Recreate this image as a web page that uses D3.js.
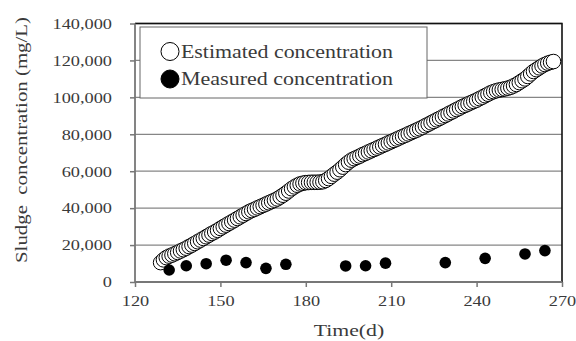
<!DOCTYPE html>
<html>
<head>
<meta charset="utf-8">
<script src="https://cdn.jsdelivr.net/npm/d3@7"></script>
<style>
  body { margin: 0; background: #fff; }
  svg text { font-family: "Liberation Serif", "DejaVu Serif", serif; fill: #3a3a3a; }
</style>
</head>
<body>
<svg id="chart" width="576" height="341"></svg>
<script>
// estimated concentration, roughly one point per day
var estDays = [
  129,130,131,132,133,134,135,136,137,138,139,140,141,142,143,144,145,146,147,148,
  149,150,151,152,153,154,155,156,157,158,159,160,161,162,163,164,165,166,167,168,
  169,170,171,172,173,174,175,176,177,178,179,180,181,182,183,184,185,186,187,188,
  189,190,191,192,193,194,195,196,197,198,199,200,201,202,203,204,205,206,207,208,
  209,210,211,212,213,214,215,216,217,218,219,220,221,222,223,224,225,226,227,228,
  229,230,231,232,233,234,235,236,237,238,239,240,241,242,243,244,245,246,247,248,
  249,250,251,252,253,254,255,256,257,258,259,260,261,262,263,264,265,266,267
];
var estValues = [
  10500,12000,13200,14000,14600,15300,16000,16800,17500,18300,19200,20000,20900,21800,22700,23600,24500,25400,26300,27100,
  28000,29000,29900,30800,31700,32600,33500,34400,35300,36200,37100,38000,38700,39400,40100,40800,41500,42200,42900,43600,
  44300,45000,46000,47000,48100,49300,50500,51500,52400,53100,53500,53800,53900,54000,54000,54000,54100,54300,55000,56000,
  57200,58400,59500,60800,62200,63600,64900,66000,66800,67500,68200,69000,69700,70400,71100,71800,72500,73200,73900,74600,
  75300,76000,76700,77400,78100,78800,79500,80200,80900,81600,82300,83000,83800,84600,85400,86200,87000,87800,88600,89400,
  90200,91000,91800,92600,93400,94200,95000,95700,96400,97100,97800,98500,99300,100100,100900,101700,102500,103100,103600,104000,
  104300,104600,105000,105500,106200,107000,108000,109000,110000,111300,112700,114000,115000,116000,117000,117800,118500,119000,119400
];

// measured concentration
var measDays = [132, 138, 145, 152, 159, 166, 173, 194, 201, 208, 229, 243, 257, 264];
var measValues = [6500, 8800, 9900, 11800, 10500, 7400, 9600, 8700, 8800, 10200, 10500, 12800, 15200, 17000];

var xTicks = [120, 150, 180, 210, 240, 270];
var yTicks = [0, 20000, 40000, 60000, 80000, 100000, 120000, 140000];
var legendLabels = ["Estimated concentration", "Measured concentration"];

var margin = {top: 23.5, right: 14, bottom: 59, left: 135};
var width = 576 - margin.left - margin.right;
var height = 341 - margin.top - margin.bottom;

// the original font is a wide mincho face, so widen the serif glyphs a bit
function stretch(sel, factor) {
    sel.each(function() {
        var w = this.getComputedTextLength();
        d3.select(this).attr("textLength", w * factor).attr("lengthAdjust", "spacingAndGlyphs");
    });
}

var svg = d3.select("#chart");
var g = svg.append("g")
    .attr("transform", "translate(" + margin.left + "," + margin.top + ")");

var x = d3.scaleLinear().domain([120, 270]).range([0, width]);
var y = d3.scaleLinear().domain([0, 140000]).range([height, 0]);

// gridlines
g.selectAll(".grid")
    .data(yTicks.slice(1))
  .enter().append("line")
    .attr("class", "grid")
    .attr("x1", 0).attr("x2", width)
    .attr("y1", d => y(d)).attr("y2", d => y(d))
    .attr("stroke", "#868686").attr("stroke-width", 1.3);

// frame top/right
g.append("path")
    .attr("d", "M0,0H" + width + "V" + height)
    .attr("fill", "none").attr("stroke", "#111").attr("stroke-width", 1.6);

var fmt = d3.format(",");

var yAxis = g.append("g")
    .call(d3.axisLeft(y).tickValues(yTicks).tickFormat(fmt).tickSize(5).tickPadding(18));
var xAxis = g.append("g")
    .attr("transform", "translate(0," + height + ")")
    .call(d3.axisBottom(x).tickValues(xTicks).tickSize(5).tickPadding(8));

[yAxis, xAxis].forEach(function(ax) {
    ax.select(".domain").attr("stroke", "#777").attr("stroke-width", 1.8);
    ax.selectAll(".tick line").attr("stroke", "#777").attr("stroke-width", 1.5);
    ax.selectAll("text")
      .style("font-family", "Liberation Serif, serif")
      .style("font-size", "15px").attr("fill", "#3a3a3a")
      .call(stretch, 1.22);
});
yAxis.selectAll(".domain").attr("d", "M0," + height + "V0");
xAxis.selectAll(".domain").attr("d", "M0,0H" + width);

// estimated points
g.selectAll(".est")
    .data(estDays)
  .enter().append("circle")
    .attr("class", "est")
    .attr("cx", d => x(d))
    .attr("cy", (d, i) => y(estValues[i]))
    .attr("r", 7.3)
    .attr("fill", "#fff")
    .attr("stroke", "#000")
    .attr("stroke-width", 1);

// measured points
g.selectAll(".meas")
    .data(measDays)
  .enter().append("circle")
    .attr("class", "meas")
    .attr("cx", d => x(d))
    .attr("cy", (d, i) => y(measValues[i]))
    .attr("r", 5.8)
    .attr("fill", "#000");

// legend
var legend = svg.append("g").attr("transform", "translate(140,27)");
legend.append("rect")
    .attr("width", 287).attr("height", 71)
    .attr("fill", "#fff").attr("stroke", "#666").attr("stroke-width", 1);

legend.selectAll(".lg")
    .data(legendLabels)
  .enter().append("g")
    .attr("transform", (d, i) => "translate(0," + (24.5 + i * 27.5) + ")")
    .each(function(d, i) {
        var row = d3.select(this);
        row.append("circle")
          .attr("cx", 30).attr("cy", 0).attr("r", 9)
          .attr("fill", i ? "#000" : "#fff")
          .attr("stroke", "#000").attr("stroke-width", 1);
        row.append("text")
          .attr("x", 41).attr("dy", "0.35em")
          .style("font-size", "18.5px")
          .attr("textLength", 212).attr("lengthAdjust", "spacingAndGlyphs")
          .text(d);
    });

// axis titles
svg.append("text")
    .attr("x", 349).attr("y", 336)
    .attr("text-anchor", "middle")
    .style("font-size", "17px")
    .text("Time(d)")
    .call(stretch, 1.28);

svg.append("text")
    .attr("transform", "translate(27,140) rotate(-90)")
    .attr("text-anchor", "middle")
    .style("font-size", "17px")
    .attr("textLength", 246).attr("lengthAdjust", "spacingAndGlyphs")
    .text("Sludge\u00a0\u00a0concentration (mg/L)");
</script>
</body>
</html>
